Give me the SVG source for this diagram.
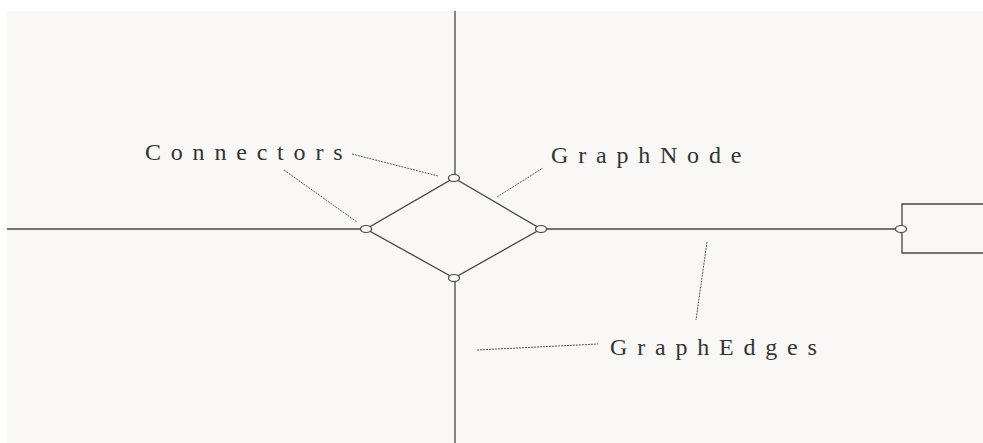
<svg xmlns="http://www.w3.org/2000/svg" width="983" height="443" viewBox="0 0 983 443">
<style>
.ln{stroke:#444;stroke-width:1.3;fill:none}
.cn{stroke:#444;stroke-width:1.2;fill:#f9f8f6}
.ld{stroke:#555;stroke-width:1;stroke-dasharray:2 1;fill:none}
.lb{font-family:"Liberation Serif",serif;font-size:24px;fill:#333;letter-spacing:9.8px}
</style>
<rect x="0" y="0" width="983" height="443" fill="#ffffff"/>
<rect x="7" y="11" width="976" height="432" fill="#f9f8f6"/>
<g id="edges">
<line class="ln" x1="455" y1="11" x2="455" y2="175"/>
<line class="ln" x1="455" y1="281" x2="455" y2="443"/>
<line class="ln" x1="7" y1="229" x2="361" y2="229"/>
<line class="ln" x1="547" y1="229" x2="896" y2="229"/>
</g>
<g id="node">
<polygon class="ln" points="454,178 541,229 454,278 366,229"/>
</g>
<g id="box">
<polyline class="ln" points="983,204 902,204 902,253 983,253"/>
</g>
<g id="connectors">
<ellipse class="cn" cx="454" cy="178" rx="5.5" ry="3.5"/>
<ellipse class="cn" cx="366" cy="229" rx="5.5" ry="3.5"/>
<ellipse class="cn" cx="541" cy="229" rx="5.5" ry="3.5"/>
<ellipse class="cn" cx="454" cy="278" rx="5.5" ry="3.5"/>
<ellipse class="cn" cx="901" cy="229" rx="5.5" ry="3.5"/>
</g>
<g id="leaders">
<line class="ld" x1="284" y1="170" x2="357" y2="222"/>
<line class="ld" x1="352" y1="154" x2="438" y2="176"/>
<line class="ld" x1="497" y1="197" x2="543" y2="168"/>
<line class="ld" x1="707" y1="242" x2="696" y2="320"/>
<line class="ld" x1="477" y1="350" x2="598" y2="344"/>
</g>
<g id="labels">
<text class="lb" x="145" y="160">Connectors</text>
<text class="lb" x="551" y="163">GraphNode</text>
<text class="lb" x="610" y="355">GraphEdges</text>
</g>
</svg>
